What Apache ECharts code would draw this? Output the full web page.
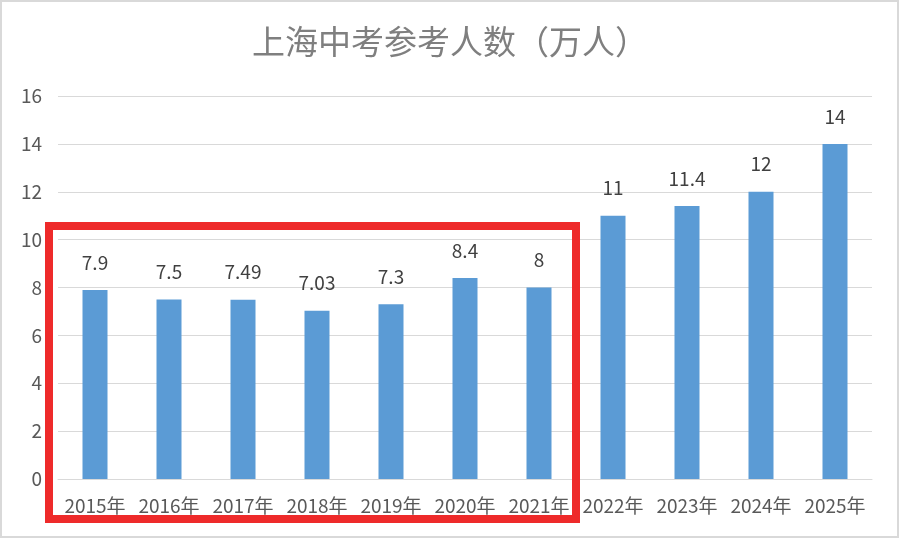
<!DOCTYPE html>
<html>
<head>
<meta charset="utf-8">
<script src="https://cdn.jsdelivr.net/npm/echarts@6/dist/echarts.min.js"></script>
<style>
html,body{margin:0;padding:0;background:#fff;}
#chart{width:900px;height:540px;}
</style>
</head>
<body>
<div id="chart"></div>
<script>
const titleText = '上海中考参考人数（万人）';
const categories = ['2015年','2016年','2017年','2018年','2019年','2020年','2021年','2022年','2023年','2024年','2025年'];
const values = [7.9, 7.5, 7.49, 7.03, 7.3, 8.4, 8, 11, 11.4, 12, 14];
const yTicks = [0, 2, 4, 6, 8, 10, 12, 14, 16];

const chart = echarts.init(document.getElementById('chart'), null, {renderer: 'canvas'});
const font = '"Noto Sans CJK SC", "Noto Sans", sans-serif';
chart.setOption({
  backgroundColor: '#ffffff',
  animation: false,
  title: {
    text: titleText,
    left: 'center',
    top: 20,
    textStyle: {fontFamily: font, fontSize: 33, fontWeight: 'normal', color: '#7f7f7f'}
  },
  grid: {left: 58, right: 28, top: 96, bottom: 61, containLabel: false},
  xAxis: {
    type: 'category',
    data: categories,
    axisLine: {show: true, lineStyle: {color: '#d9d9d9', width: 1}},
    axisTick: {show: false},
    axisLabel: {color: '#595959', fontSize: 19, fontFamily: font, margin: 17, interval: 0}
  },
  yAxis: {
    type: 'value',
    min: yTicks[0],
    max: yTicks[yTicks.length - 1],
    interval: yTicks[1] - yTicks[0],
    axisLine: {show: false},
    axisTick: {show: false},
    axisLabel: {color: '#595959', fontSize: 19, fontFamily: font, margin: 16},
    splitLine: {lineStyle: {color: '#d9d9d9', width: 1}}
  },
  series: [{
    type: 'bar',
    data: values,
    barWidth: 25,
    itemStyle: {color: '#5b9bd5'},
    label: {
      show: true,
      position: 'top',
      distance: 18,
      color: '#404040',
      fontSize: 19,
      fontFamily: font
    }
  }],
  graphic: [
    {
      type: 'rect',
      shape: {x: 1, y: 1, width: 897, height: 536},
      style: {fill: 'none', stroke: '#d9d9d9', lineWidth: 2},
      silent: true
    },
    {
      type: 'rect',
      shape: {x: 49, y: 226, width: 527, height: 293},
      style: {fill: 'none', stroke: '#ee2a2a', lineWidth: 8},
      silent: true,
      z: 100
    }
  ]
});
</script>
</body>
</html>
